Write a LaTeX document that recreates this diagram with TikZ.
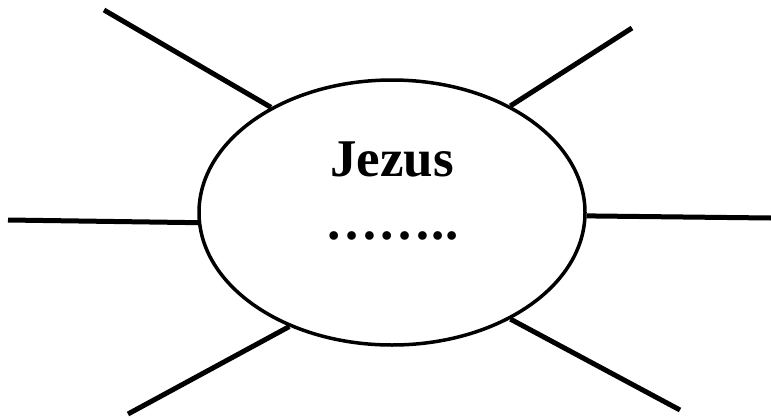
\documentclass[tikz,border=0pt]{standalone}
\usepackage{fontspec}
\setmainfont{Liberation Serif}
\usetikzlibrary{shapes.geometric}

\begin{document}
\begin{tikzpicture}[
  x=1pt, y=-1pt,
  every node/.style={inner sep=0pt, font=\fontsize{53}{60}\selectfont\bfseries},
  hub/.style={draw, ellipse, line width=3.5pt, minimum width=386pt, minimum height=265pt},
  ray/.style={draw, line width=5pt}
]
\useasboundingbox (0,0) rectangle (771,418);
\node[hub] (jezus) at (392,212.5) {};
\node (name) at (392,159) {Jezus};
\node (dots) at (392,236) {……..};
% free ends of the rays
\coordinate (tl) at (104,10);
\coordinate (tr) at (632,28);
\coordinate (l) at (8,220);
\coordinate (r) at (771,218);
\coordinate (bl) at (128,414);
\coordinate (br) at (680,410);
\draw[ray] (tl) -- (jezus.139);
\draw[ray] (tr) -- (jezus.42.5);
\draw[ray] (l) -- (jezus.183);
\draw[ray] (r) -- (jezus.-1);
\draw[ray] (bl) -- (jezus.228);
\draw[ray] (br) -- (jezus.318.3);
\end{tikzpicture}
\end{document}
